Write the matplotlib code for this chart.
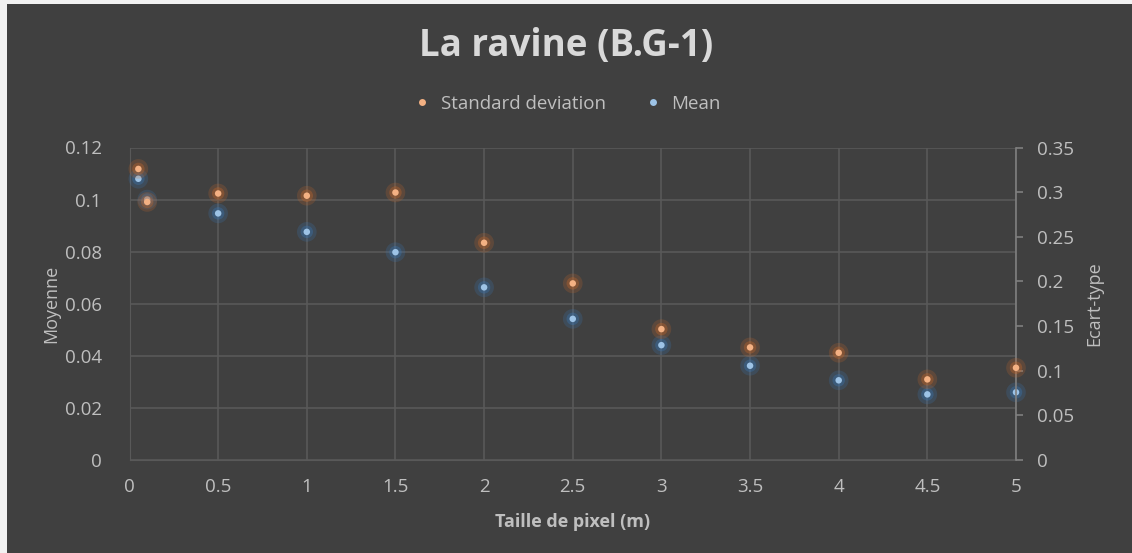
import matplotlib
matplotlib.use("Agg")
import matplotlib.pyplot as plt
from matplotlib.patches import Rectangle
from matplotlib.lines import Line2D

# data
pixel_size = [0.05, 0.1, 0.5, 1, 1.5, 2, 2.5, 3, 3.5, 4, 4.5, 5]
mean_vals = [0.108, 0.100, 0.0947, 0.0876, 0.0798, 0.0663, 0.0542, 0.0441,
             0.0362, 0.0306, 0.0252, 0.026]
std_vals = [0.326, 0.289, 0.2985, 0.296, 0.2996, 0.2433, 0.1978, 0.1466,
            0.1261, 0.1201, 0.0903, 0.1033]

left_ticks = [0, 0.02, 0.04, 0.06, 0.08, 0.1, 0.12]
left_labels = ["0", "0.02", "0.04", "0.06", "0.08", "0.1", "0.12"]
right_ticks = [0, 0.05, 0.1, 0.15, 0.2, 0.25, 0.3, 0.35]
right_labels = ["0", "0.05", "0.1", "0.15", "0.2", "0.25", "0.3", "0.35"]
x_ticks = [0, 0.5, 1, 1.5, 2, 2.5, 3, 3.5, 4, 4.5, 5]
x_labels = ["0", "0.5", "1", "1.5", "2", "2.5", "3", "3.5", "4", "4.5", "5"]

plt.rcParams['font.family'] = ['Open Sans', 'DejaVu Sans']

bg = "#404040"
grid_c = "#595959"
text_c = "#bfbfbf"
orange = "#f4b183"
blue = "#9dc3e6"

W, H = 1132, 553
fig = plt.figure(figsize=(W / 100, H / 100), dpi=100)
fig.patch.set_facecolor("#f2f2f2")
fig.patches.append(Rectangle((7 / W, 0), 1, 1 - 4 / H, transform=fig.transFigure,
                             facecolor=bg, edgecolor="none", zorder=-1))

ax = fig.add_axes([129.5 / W, (H - 460) / H, (1016 - 129.5) / W, (460 - 147.5) / H])
ax2 = ax.twinx()
ax.patch.set_visible(False)
ax2.patch.set_visible(False)

ax.set_xlim(0, 5)
ax.set_ylim(0, 0.12)
ax2.set_ylim(0, 0.35)

ax.set_xticks(x_ticks)
ax.set_xticklabels(x_labels)
ax.set_yticks(left_ticks)
ax.set_yticklabels(left_labels)
ax2.set_yticks(right_ticks)
ax2.set_yticklabels(right_labels)

ax.grid(True, color=grid_c, linewidth=1.2)
ax.set_axisbelow(True)
for a in (ax, ax2):
    for s in a.spines.values():
        s.set_visible(False)
ax.spines['left'].set_visible(True)
ax.spines['left'].set_color(grid_c)
ax.spines['bottom'].set_visible(True)
ax.spines['bottom'].set_color(grid_c)
ax2.spines['right'].set_visible(True)
ax2.spines['right'].set_color("#7f7f7f")
ax2.spines['right'].set_linewidth(1.2)

ax.tick_params(axis='x', length=0, labelsize=13.5, colors=text_c, pad=13)
ax.tick_params(axis='y', length=0, labelsize=13.5, colors=text_c, pad=20)
ax2.tick_params(axis='y', length=5, width=1.2, color="#7f7f7f",
                labelsize=13.5, labelcolor=text_c, pad=10)

# soft glow under each marker, then the marker itself
for a, vals, glow, core in ((ax2, std_vals, "#c8692a", orange),
                            (ax, mean_vals, "#3a78b8", blue)):
    a.scatter(pixel_size, vals, s=200, color=glow, alpha=0.22,
              edgecolors="none", zorder=3, clip_on=False)
    a.scatter(pixel_size, vals, s=80, color=glow, alpha=0.35,
              edgecolors="none", zorder=3, clip_on=False)
    a.scatter(pixel_size, vals, s=22, color=core, edgecolors="none",
              zorder=4, clip_on=False)

ax.set_xlabel("Taille de pixel (m)", color=text_c, fontsize=13,
              fontweight='bold', labelpad=12)
ax.set_ylabel("Moyenne", color=text_c, fontsize=13, labelpad=3)
ax2.set_ylabel("Ecart-type", color=text_c, fontsize=13, labelpad=8)

fig.text(0.5, (H - 46) / H, "La ravine (B.G-1)", ha='center', va='center',
         fontsize=26.5, fontweight='bold', color="#d9d9d9")

handles = [Line2D([], [], marker='o', linestyle='none', markersize=5,
                  markerfacecolor=orange, markeredgecolor='none'),
           Line2D([], [], marker='o', linestyle='none', markersize=5,
                  markerfacecolor=blue, markeredgecolor='none')]
fig.legend(handles, ["Standard deviation", "Mean"], loc='center',
           bbox_to_anchor=(562 / W, (H - 104) / H), ncol=2, frameon=False,
           fontsize=13.5, labelcolor=text_c, handletextpad=0.0, columnspacing=1.5)

fig.savefig("out.png", dpi=100, facecolor=fig.get_facecolor())
